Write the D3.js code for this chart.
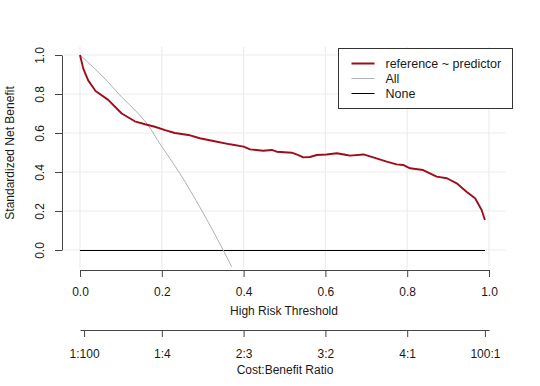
<!DOCTYPE html>
<html>
<head>
<meta charset="utf-8">
<script src="https://cdn.jsdelivr.net/npm/d3@7"></script>
<style>
  body { margin: 0; background: #fff; }
  svg text { font-family: "Liberation Sans", Arial, sans-serif; fill: #1a1a1a; }
</style>
</head>
<body>
<svg id="chart" width="540" height="386"></svg>
<script>
// standardized net benefit
const modelThreshold = [0, 0.008, 0.02, 0.038, 0.069, 0.102, 0.134, 0.159, 0.183, 0.208, 0.232, 0.265, 0.293, 0.326, 0.367, 0.40, 0.416, 0.448, 0.469, 0.481, 0.518, 0.534, 0.546, 0.562, 0.579, 0.603, 0.628, 0.652, 0.66, 0.693, 0.717, 0.75, 0.774, 0.79, 0.807, 0.839, 0.872, 0.897, 0.921, 0.945, 0.966, 0.982, 0.99];
const modelBenefit  = [1.0, 0.93, 0.87, 0.815, 0.77, 0.70, 0.66, 0.645, 0.632, 0.615, 0.60, 0.59, 0.573, 0.559, 0.542, 0.53, 0.516, 0.509, 0.513, 0.504, 0.499, 0.487, 0.475, 0.477, 0.487, 0.49, 0.496, 0.487, 0.484, 0.49, 0.475, 0.453, 0.439, 0.436, 0.419, 0.41, 0.376, 0.368, 0.342, 0.299, 0.265, 0.205, 0.154];

const allThreshold = [0, 0.036, 0.068, 0.101, 0.134, 0.166, 0.196, 0.244, 0.297, 0.35, 0.371];
const allBenefit   = [1.0, 0.93, 0.863, 0.786, 0.718, 0.641, 0.543, 0.393, 0.205, 0.0, -0.086];

const noneThreshold = [0, 0.99];
const noneBenefit   = [0, 0];

const xTicks = [0, 0.2, 0.4, 0.6, 0.8, 1.0];
const yTicks = [0, 0.2, 0.4, 0.6, 0.8, 1.0];
const cbTicks  = [0.01, 0.2, 0.4, 0.6, 0.8, 0.99];
const cbLabels = ["1:100", "1:4", "2:3", "3:2", "4:1", "100:1"];

const legendNames  = ["reference ~ predictor", "All", "None"];
const legendColors = ["#a00c1c", "#b0b0b0", "#000000"];
const legendWidths = [2, 1, 1];

const svg = d3.select("#chart");
const x = d3.scaleLinear().domain([0, 1]).range([80, 489]);
const y = d3.scaleLinear().domain([0, 1]).range([250, 55]);

// plot region (R style, ylim -0.05..1 with 4% padding)
const plotL = x(-0.04), plotR = x(1.04), plotT = y(1.042), plotB = y(-0.092);

svg.append("defs").append("clipPath").attr("id", "clip")
  .append("rect").attr("x", plotL).attr("y", plotT)
  .attr("width", plotR - plotL).attr("height", plotB - plotT);

// grid
const grid = svg.append("g").attr("stroke", "#ececec").attr("stroke-width", 1.2);
grid.selectAll(".vg").data(xTicks).enter().append("line")
  .attr("x1", d => x(d)).attr("x2", d => x(d))
  .attr("y1", plotT).attr("y2", plotB);
grid.selectAll(".hg").data(yTicks).enter().append("line")
  .attr("x1", plotL).attr("x2", plotR)
  .attr("y1", d => y(d)).attr("y2", d => y(d));

const plotG = svg.append("g").attr("clip-path", "url(#clip)").attr("fill", "none");

plotG.append("path")
  .datum(noneThreshold.map((t, i) => [t, noneBenefit[i]]))
  .attr("stroke", legendColors[2]).attr("stroke-width", 1)
  .attr("shape-rendering", "crispEdges")
  .attr("transform", "translate(0,0.5)")
  .attr("d", d3.line().x(d => x(d[0])).y(d => y(d[1])));

plotG.append("path")
  .datum(allThreshold.map((t, i) => [t, allBenefit[i]]))
  .attr("stroke", legendColors[1]).attr("stroke-width", 1)
  .attr("d", d3.line().x(d => x(d[0])).y(d => y(d[1])).curve(d3.curveMonotoneX));

plotG.append("path")
  .datum(modelThreshold.map((t, i) => [t, modelBenefit[i]]))
  .attr("stroke", legendColors[0]).attr("stroke-width", 1.9)
  .attr("stroke-linejoin", "round")
  .attr("d", d3.line().x(d => x(d[0])).y(d => y(d[1])));

// axes
function styleAxis(g) {
  g.select(".domain").attr("stroke", "#444");
  g.selectAll(".tick line").attr("stroke", "#444");
  g.selectAll(".tick text").attr("font-size", 12).attr("fill", "#1a1a1a");
}

svg.append("g")
  .attr("transform", "translate(62,0)")
  .call(d3.axisLeft(y).tickValues(yTicks).tickFormat(d3.format(".1f")).tickSize(7).tickSizeOuter(0))
  .call(styleAxis)
  .call(g => g.selectAll(".tick text")
    .attr("transform", "rotate(-90)")
    .attr("x", 0).attr("y", -22)
    .attr("dy", "0.35em")
    .attr("text-anchor", "middle"));

svg.append("g")
  .attr("transform", "translate(0,270)")
  .call(d3.axisBottom(x).tickValues(xTicks).tickFormat(d3.format(".1f")).tickSize(7).tickSizeOuter(0))
  .call(styleAxis)
  .call(g => g.selectAll(".tick text").attr("y", 17));

svg.append("g")
  .attr("transform", "translate(0,330)")
  .call(d3.axisBottom(x).tickValues(cbTicks).tickFormat((d, i) => cbLabels[i]).tickSize(7).tickSizeOuter(0))
  .call(styleAxis)
  .call(g => g.selectAll(".tick text").attr("y", 19));

svg.append("text").attr("x", 284).attr("y", 315).attr("text-anchor", "middle")
  .attr("font-size", 12).text("High Risk Threshold");
svg.append("text").attr("x", 285).attr("y", 374).attr("text-anchor", "middle")
  .attr("font-size", 12).text("Cost:Benefit Ratio");
svg.append("text").attr("transform", "translate(14,153) rotate(-90)")
  .attr("text-anchor", "middle").attr("font-size", 12).text("Standardized Net Benefit");

// legend
const lg = svg.append("g").attr("transform", "translate(338.5,48.5)");
lg.append("rect").attr("width", 174).attr("height", 60)
  .attr("fill", "#fff").attr("stroke", "#333").attr("stroke-width", 1);
const items = lg.selectAll(".item").data(legendNames).enter().append("g")
  .attr("transform", (d, i) => `translate(0,${15 + i * 15})`);
items.append("line").attr("x1", 13).attr("x2", 36)
  .attr("stroke", (d, i) => legendColors[i])
  .attr("stroke-width", (d, i) => legendWidths[i]);
items.append("text").attr("x", 47).attr("dy", "0.35em").attr("font-size", 12.5)
  .text(d => d);
</script>
</body>
</html>
